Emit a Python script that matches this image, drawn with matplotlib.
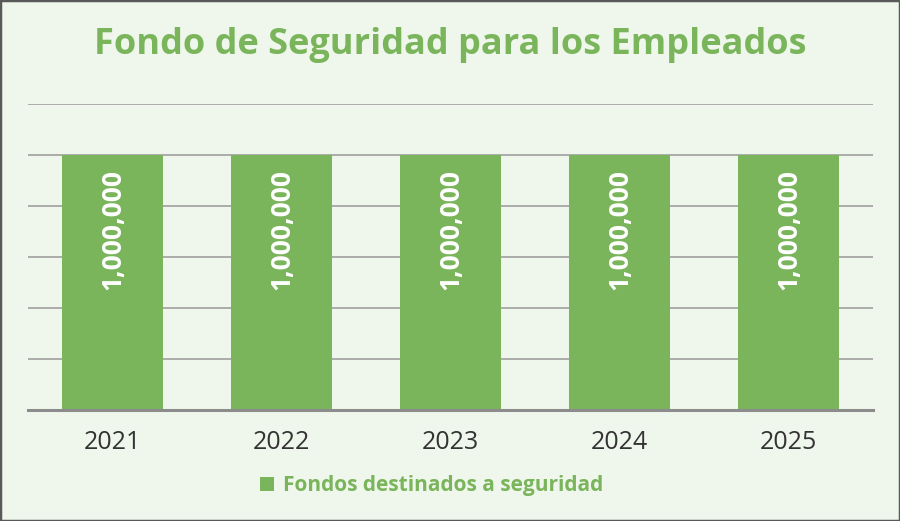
import matplotlib
matplotlib.use("Agg")
import matplotlib.pyplot as plt
from matplotlib.patches import Rectangle

# datos
anios = ["2021", "2022", "2023", "2024", "2025"]
fondos = [1000000, 1000000, 1000000, 1000000, 1000000]
etiqueta_serie = "Fondos destinados a seguridad"
titulo = "Fondo de Seguridad para los Empleados"

verde = "#7AB55C"
fondo = "#EFF6EC"

plt.rcParams['font.family'] = ['Open Sans', 'DejaVu Sans']

fig = plt.figure(figsize=(9, 5.21), dpi=100)
fig.patch.set_facecolor(fondo)
ax = fig.add_axes([28/900, 111/521, 845/900, 306/521])
ax.set_facecolor(fondo)

x = range(len(anios))
barras = ax.bar(x, fondos, width=0.6, color=verde, zorder=3, label=etiqueta_serie)

ax.set_xlim(-0.5, len(anios) - 0.5)
ax.set_ylim(0, 1200000)
ax.set_yticks(range(0, 1200001, 200000))
ax.yaxis.grid(True, color="#A6A6A6", linewidth=1.3, zorder=0)
ax.tick_params(axis='y', left=False, labelleft=False)
ax.tick_params(axis='x', bottom=False, labelsize=18, labelcolor="#333333", pad=11)
ax.set_xticks(list(x))
ax.set_xticklabels(anios)
for lado in ["top", "right", "left"]:
    ax.spines[lado].set_visible(False)
ax.spines["bottom"].set_color("#8C8C8C")
ax.spines["bottom"].set_linewidth(2.2)
ax.spines["bottom"].set_zorder(4)

for xi, v in zip(x, fondos):
    ax.annotate(f"{v:,}", (xi, v), xytext=(0, -10), textcoords="offset points",
                rotation=90, ha="center", va="top", color="white",
                fontsize=19, fontweight="bold", zorder=5)

fig.text(0.5, 1 - 45/521, titulo, ha="center", va="center",
         fontsize=26, fontweight="bold", color=verde)

leg = fig.legend(handles=[barras], labels=[etiqueta_serie], loc="center",
                 bbox_to_anchor=(432/900, 1 - 486/521), frameon=False,
                 prop={'size': 15, 'weight': 'bold'}, handlelength=0.65,
                 handleheight=0.65, handletextpad=0.45)
for t in leg.get_texts():
    t.set_color(verde)

fig.patches.append(Rectangle((0, 0), 1, 1, transform=fig.transFigure,
                             fill=False, edgecolor="#595959", linewidth=2.5))

fig.savefig("out.png", dpi=100, facecolor=fondo)
